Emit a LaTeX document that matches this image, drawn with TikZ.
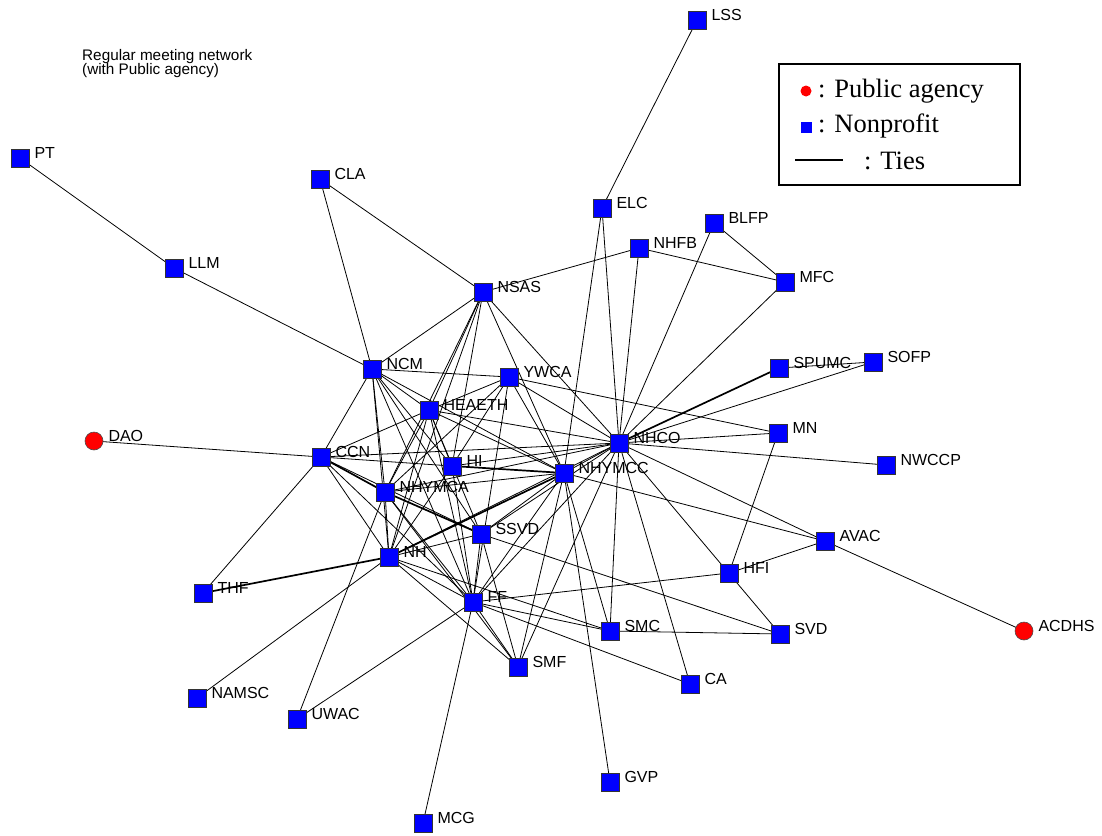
\documentclass[tikz,border=0pt]{standalone}
\usepackage{fontspec}
\setmainfont{Liberation Serif}
\setsansfont{Liberation Sans}
\usetikzlibrary{backgrounds}

\definecolor{npblue}{RGB}{0,0,255}
\definecolor{pared}{RGB}{255,0,0}

\pgfdeclarelayer{canvas}
\pgfsetlayers{canvas,background,main}

\tikzset{
  np/.style={rectangle, draw=black!80, line width=0.6pt, fill=npblue,
             minimum size=18pt, inner sep=0pt},
  pa/.style={circle, draw=black!70, line width=0.6pt, fill=pared,
             minimum size=18pt, inner sep=0pt},
  lab/.style={font=\sffamily\fontsize{16}{17}\selectfont, inner sep=0pt,
              anchor=west, text=black},
  tie/.style={draw=black, line width=0.8pt},
  thicktie/.style={draw=black, line width=1.7pt}
}

% node with its name printed on the right
\newcommand{\org}[4]{%
  \node[#1] (#2) at (#3) {};
  \node[lab] (#2-l) at ([shift={(5pt,5pt)}]#2.east) {#4};}

\begin{document}
\begin{tikzpicture}[x=1pt,y=-1pt]
\begin{pgfonlayer}{canvas}
\fill[white] (0,0) rectangle (1102,835);
\end{pgfonlayer}
\useasboundingbox (0,0) rectangle (1102,835);

% title
\node[font=\sffamily\fontsize{15.3}{14.5}\selectfont, align=left, anchor=north west,
      inner sep=0pt] (title) at (82,49) {Regular meeting network\\(with Public agency)};

% legend
\node[draw=black, line width=1.5pt, minimum width=241pt, minimum height=121pt,
      anchor=north west, inner sep=0pt] (legend) at (778,63) {};
\node[circle, fill=pared, minimum size=11pt, inner sep=0pt] (lgpa) at (806,91) {};
\node[rectangle, fill=npblue, minimum size=11pt, inner sep=0pt] (lgnp) at (806,127) {};
\coordinate (lgt1) at (795,160);
\coordinate (lgt2) at (843,160);
\draw[line width=1.2pt] (lgt1) -- (lgt2);
\node[font=\fontsize{26.5}{27}\selectfont, anchor=west, inner sep=0pt] (lgpat) at (818,91) {: Public agency};
\node[font=\fontsize{26.5}{27}\selectfont, anchor=west, inner sep=0pt] (lgnpt) at (818,126) {: Nonprofit};
\node[font=\fontsize{26.5}{27}\selectfont, anchor=west, inner sep=0pt] (lgtt) at (864,161) {: Ties};

% organisations
\org{np}{LSS}{697,20}{LSS}
\org{np}{PT}{20,158}{PT}
\org{np}{CLA}{320,179}{CLA}
\org{np}{ELC}{602,208}{ELC}
\org{np}{BLFP}{714,223}{BLFP}
\org{np}{NHFB}{639,248}{NHFB}
\org{np}{LLM}{174,268}{LLM}
\org{np}{MFC}{785,282}{MFC}
\org{np}{NSAS}{483,292}{NSAS}
\org{np}{SPUMC}{779,368}{SPUMC}
\org{np}{SOFP}{873,362}{SOFP}
\org{np}{NCM}{372,369}{NCM}
\org{np}{YWCA}{509,377}{YWCA}
\org{np}{HEAETH}{429,410}{HEAETH}
\org{np}{MN}{778,433}{MN}
\org{np}{NHCO}{619,443}{NHCO}
\org{pa}{DAO}{94,441}{DAO}
\org{np}{CCN}{321,457}{CCN}
\org{np}{HI}{452,466}{HI}
\org{np}{NWCCP}{886,465}{NWCCP}
\org{np}{NHYMCC}{564,473}{NHYMCC}
\org{np}{NHYMCA}{385,492}{NHYMCA}
\org{np}{SSVD}{481,534}{SSVD}
\org{np}{AVAC}{825,541}{AVAC}
\org{np}{NH}{389,557}{NH}
\org{np}{HFI}{729,573}{HFI}
\org{np}{THF}{203,593}{THF}
\org{np}{FF}{473,602}{FF}
\org{np}{SMC}{610,631}{SMC}
\org{np}{SVD}{780,634}{SVD}
\org{pa}{ACDHS}{1024,631}{ACDHS}
\org{np}{SMF}{518,667}{SMF}
\org{np}{CA}{690,684}{CA}
\org{np}{NAMSC}{197,698}{NAMSC}
\org{np}{UWAC}{297,719}{UWAC}
\org{np}{GVP}{610,782}{GVP}
\org{np}{MCG}{423,823}{MCG}

\begin{pgfonlayer}{background}
% outer ties
\foreach \a/\b in {LSS/ELC, PT/LLM, LLM/NCM, CLA/NCM, CLA/NSAS, ELC/NHYMCC,
  ELC/NHCO, NSAS/NHFB, NHFB/MFC, NHFB/NHCO, BLFP/MFC, BLFP/NHCO, MFC/NHCO,
  SPUMC/SOFP, SOFP/NHCO, MN/NHCO, MN/HFI, YWCA/MN, NHCO/NWCCP, NHCO/AVAC,
  NHYMCC/AVAC, AVAC/ACDHS, AVAC/HFI, FF/HFI, SMC/SVD, SSVD/SVD, NHCO/SVD,
  FF/CA, FF/SMC, SMC/NHCO, SMC/NHYMCC, SMF/NHCO, SMF/FF, SMF/NH, SMF/SSVD,
  SMF/NHYMCA, CA/NHCO, GVP/NHYMCC, MCG/FF, UWAC/NHYMCA, UWAC/FF, NAMSC/NH,
  THF/CCN, DAO/CCN}
  \draw[tie] (\a.center) -- (\b.center);
% core ties
\foreach \a/\b in {NCM/CCN, NCM/NHYMCA, NCM/NH, NCM/HEAETH, NCM/HI, NCM/FF,
  NCM/SSVD, NCM/NHYMCC, NCM/YWCA, NCM/NSAS,
  NSAS/HEAETH, NSAS/NHYMCA, NSAS/HI, NSAS/NHYMCC, NSAS/NHCO, NSAS/NH,
  YWCA/HEAETH, YWCA/HI, YWCA/NHYMCC, YWCA/NHCO, YWCA/NHYMCA, YWCA/FF,
  HEAETH/CCN, HEAETH/NHYMCA, HEAETH/NH, HEAETH/HI, HEAETH/FF, HEAETH/NHYMCC,
  HEAETH/NHCO, HEAETH/SSVD,
  CCN/NH, CCN/FF, CCN/HI, CCN/NHCO, CCN/SSVD,
  HI/NHCO, HI/NH, HI/FF,
  NHYMCA/NH, NHYMCA/FF, NHYMCA/NHYMCC, NHYMCA/NHCO,
  NHYMCC/SSVD, NHYMCC/FF, NHYMCC/NHCO, NHYMCC/SMF,
  NHCO/FF, NHCO/SSVD, NHCO/NH, SSVD/NH, SSVD/FF, NH/FF, NH/SMC}
  \draw[tie] (\a.center) -- (\b.center);
% repeated ties
\foreach \a/\b in {SPUMC/NHCO, THF/NH, CCN/NHYMCA, HI/NHYMCC, NHYMCC/NH,
  NHYMCA/SSVD}
  \draw[thicktie] (\a.center) -- (\b.center);
\end{pgfonlayer}
\end{tikzpicture}
\end{document}
